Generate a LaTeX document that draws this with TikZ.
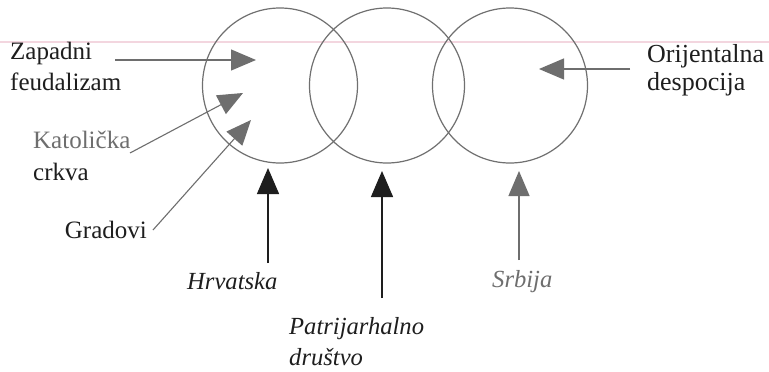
\documentclass[tikz,border=0pt]{standalone}
\usepackage{fontspec}
\setmainfont{Liberation Serif}
\usetikzlibrary{arrows.meta}
\definecolor{ink}{HTML}{1E1E1E}
\definecolor{soft}{HTML}{6E6E6E}
\definecolor{ring}{HTML}{707070}
\definecolor{scanline}{HTML}{F3D6DF}
\begin{document}
\begin{tikzpicture}[x=1pt,y=-1pt,
  label/.style={inner sep=0pt,text=ink,font=\fontsize{25}{31}\selectfont,align=left},
  itlabel/.style={label,font=\fontsize{24.6}{31}\selectfont\itshape},
  circ/.style={draw=ring,line width=1.2pt},
  greyarrow/.style={draw=soft,line width=1.1pt,-{Triangle[length=25pt,width=21pt,fill=soft]}},
  blackarrow/.style={draw=ink,line width=1.4pt,-{Triangle[length=26pt,width=22pt,fill=ink]}}]
\useasboundingbox (0,0) rectangle (769,372);
\fill[white] (0,0) rectangle (769,372);
\draw[scanline,line width=1.2pt] (0,42) -- (769,42);

% three overlapping circles
\node[circ,circle,minimum size=155pt,inner sep=0pt] (c1) at (280,85.5) {};
\node[circ,circle,minimum size=155pt,inner sep=0pt] (c2) at (387,85.5) {};
\node[circ,circle,minimum size=155pt,inner sep=0pt] (c3) at (510,85.5) {};

% labels (base anchor of a two-line node sits on its last line)
\node[label,anchor=base west] (zap) at (10,90) {Zapadni\\feudalizam};
\node[label,anchor=base west,text=soft] (kat) at (33,148) {Katolička};
\node[label,anchor=base west] (crk) at (33,180) {crkva};
\node[label,anchor=base east] (gra) at (147,238) {Gradovi};
\node[itlabel,anchor=base west] (hrv) at (187,289) {Hrvatska};
\node[itlabel,anchor=base west] (pat) at (289,365) {Patrijarhalno\\društvo};
\node[itlabel,anchor=base west,text=soft] (srb) at (492,287) {Srbija};
\node[label,anchor=base west,font=\fontsize{26}{28}\selectfont] (ori) at (647,90) {Orijentalna\\despocija};

% connector end points
\coordinate (zapS) at (115,60);
\coordinate (zapT) at (256,60);
\coordinate (katS) at (130,153);
\coordinate (katT) at (243,93);
\coordinate (graS) at (153,230);
\coordinate (graT) at (251,120);
\coordinate (oriS) at (630,69);
\coordinate (oriT) at (539,69);
\coordinate (hrvS) at (268,263);
\coordinate (hrvT) at (268,168);
\coordinate (patS) at (382,298);
\coordinate (patT) at (382,171);
\coordinate (srbS) at (519,260);
\coordinate (srbT) at (519,171);

% connectors
\draw[greyarrow] (zapS) -- (zapT);
\draw[greyarrow] (katS) -- (katT);
\draw[greyarrow] (graS) -- (graT);
\draw[greyarrow] (oriS) -- (oriT);
\draw[blackarrow] (hrvS) -- (hrvT);
\draw[blackarrow] (patS) -- (patT);
\draw[greyarrow] (srbS) -- (srbT);
\end{tikzpicture}
\end{document}
